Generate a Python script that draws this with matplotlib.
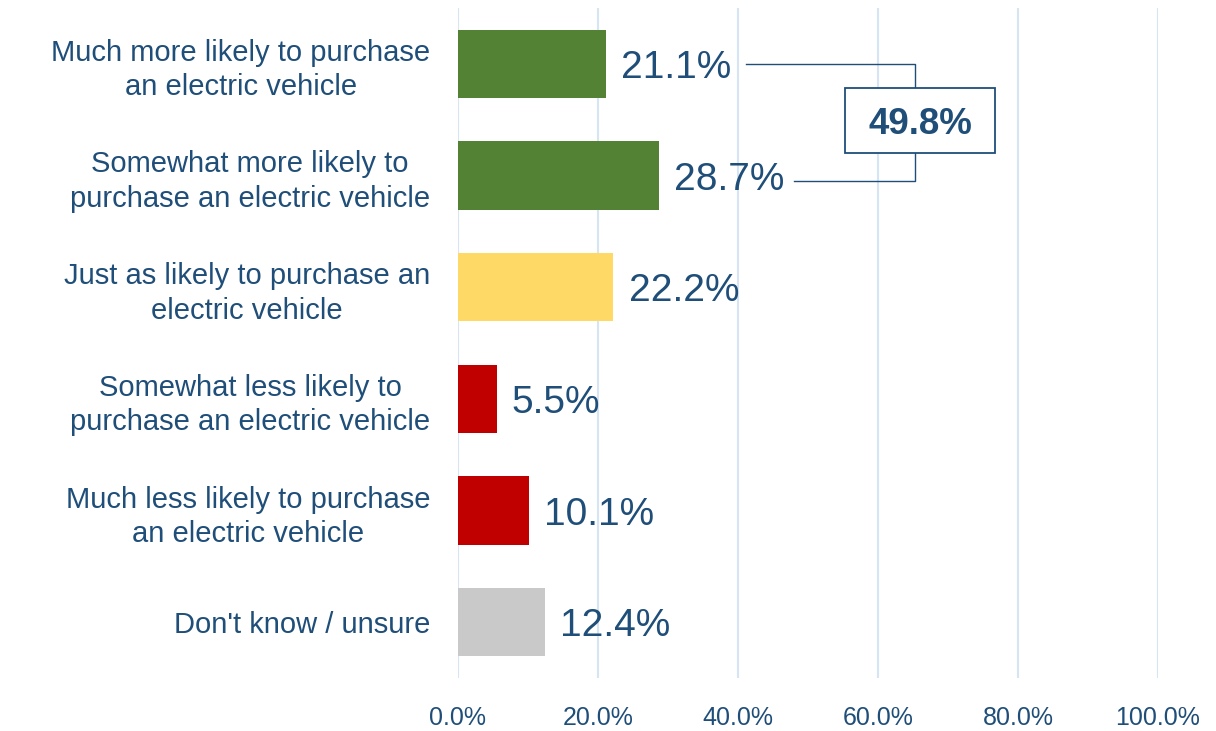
import matplotlib.pyplot as plt
from matplotlib.patches import Rectangle

# Data
categories = [
    "Much more likely to purchase\nan electric vehicle",
    "Somewhat more likely to\npurchase an electric vehicle",
    "Just as likely to purchase an\nelectric vehicle",
    "Somewhat less likely to\npurchase an electric vehicle",
    "Much less likely to purchase\nan electric vehicle",
    "Don't know / unsure",
]
values = [21.1, 28.7, 22.2, 5.5, 10.1, 12.4]
colors = ["#548235", "#548235", "#FFD966", "#C00000", "#C00000", "#C9C9C9"]
combined_label = "49.8%"
xticks = [0, 20, 40, 60, 80, 100]

text_color = "#1F4E79"
plt.rcParams["font.family"] = ["Liberation Sans", "DejaVu Sans"]

fig = plt.figure(figsize=(12.16, 7.31), dpi=100)
ax = fig.add_axes([458 / 1216, 53 / 731, 700 / 1216, 670 / 731])

rows = list(range(len(categories)))
ax.barh(rows, values, height=0.61, color=colors, zorder=3)
ax.set_ylim(len(categories) - 0.5, -0.5)
ax.set_xlim(0, 100)

# value labels
for r, v in zip(rows, values):
    ax.annotate(f"{v:.1f}%", xy=(v, r), xytext=(11, -3), textcoords="offset points",
                va="center", ha="left", fontsize=28, color=text_color, zorder=4)

# bracket combining the top two rows
line_kw = dict(color=text_color, lw=1.0, zorder=4)
ax.plot([values[0] + 20.0, 65.3, 65.3], [0, 0, 0.23], **line_kw)
ax.plot([values[1] + 19.3, 65.3, 65.3], [1.05, 1.05, 0.8], **line_kw)
ax.add_patch(Rectangle((55.3, 0.218), 21.4, 0.582, fill=True, facecolor="white",
                       edgecolor=text_color, lw=1.3, zorder=5))
ax.text(66.0, 0.54, combined_label, ha="center", va="center", fontsize=26.5,
        fontweight="bold", color=text_color, zorder=6)

# axes styling
ax.set_yticks(rows)
ax.set_yticklabels(categories, fontsize=21, color=text_color, ha="right",
                   multialignment="center", linespacing=1.3)
ax.tick_params(axis="y", length=0, pad=20)
ax.set_xticks(xticks)
ax.set_xticklabels([f"{t:.1f}%" for t in xticks], fontsize=18, color=text_color)
ax.tick_params(axis="x", length=0, pad=20)
ax.grid(axis="x", color="#D6E5F4", lw=1.5, zorder=0)
for s in ax.spines.values():
    s.set_visible(False)

fig.savefig("out.png", dpi=100)
